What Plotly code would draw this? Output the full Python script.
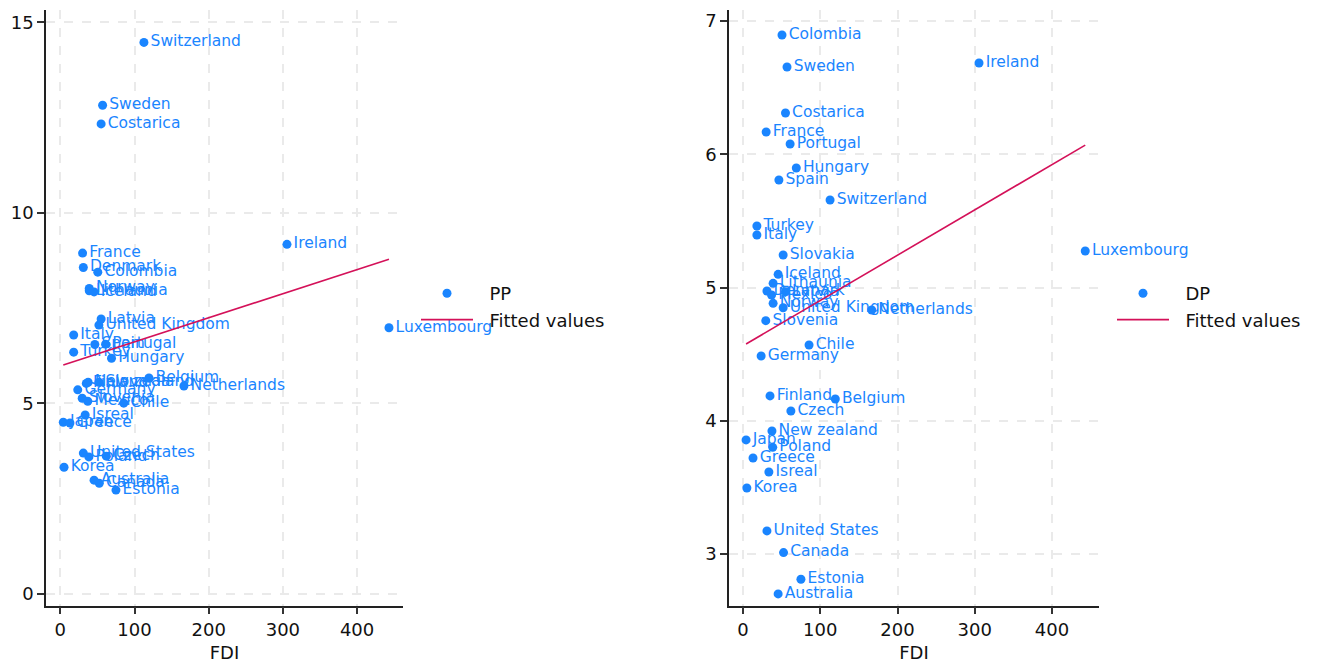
import plotly.graph_objects as go

countries = ["Colombia", "Ireland", "Sweden", "Costarica", "France", "Portugal", "Hungary",
             "Spain", "Switzerland", "Turkey", "Italy", "Slovakia", "Luxembourg", "Iceland",
             "Lithaunia", "Denmark", "Latvia", "Mexico", "Norway", "United Kingdom",
             "Netherlands", "Slovenia", "Chile", "Germany", "Finland", "Belgium", "Czech",
             "New zealand", "Japan", "Poland", "Greece", "Isreal", "Korea", "United States",
             "Canada", "Estonia", "Australia"]
fdi = [50.5, 305.5, 57, 55, 30, 61, 69, 46.5, 112.7, 18, 18, 52, 443, 45.5,
       39, 31, 55, 37, 39, 52, 166.6, 29.5, 85.5, 23.5, 35, 119.5, 62,
       37.5, 4, 38.5, 13, 33.5, 5, 31, 52.5, 75, 45.5]
pp = [8.44, 9.17, 12.82, 12.33, 8.94, 6.55, 6.18, 6.54, 14.47, 6.34, 6.79, 5.55, 6.98, 7.92,
      7.95, 8.56, 7.21, 5.05, 8.01, 7.05, 5.45, 5.13, 5.0, 5.35, 5.52, 5.66, 3.61,
      5.55, 4.5, 3.59, 4.48, 4.69, 3.32, 3.69, 2.90, 2.72, 2.98]
dp = [6.895, 6.685, 6.655, 6.31, 6.167, 6.077, 5.897, 5.807, 5.657, 5.462, 5.394, 5.244, 5.274, 5.099,
      5.031, 4.974, 4.968, 4.944, 4.881, 4.848, 4.831, 4.751, 4.568, 4.486, 4.186, 4.163, 4.073,
      3.923, 3.856, 3.80, 3.72, 3.615, 3.495, 3.173, 3.01, 2.81, 2.70]

fit_fdi = [4, 443]
pp_fit = [6.0, 8.78]
dp_fit = [4.576, 6.069]

x_ticks = [0, 100, 200, 300, 400]
pp_ticks = [0, 5, 10, 15]
dp_ticks = [3, 4, 5, 6, 7]

BLUE = "#1a85ff"
RED = "#d41159"
FONT = "DejaVu Sans"
W, H = 1325, 664
PAD = "\u00a0\u00a0"

fig = go.Figure()

fig.add_trace(go.Scatter(
    x=fdi, y=pp, mode="markers+text", text=countries, textposition="middle right",
    textfont=dict(family=FONT, size=15.5, color=BLUE),
    marker=dict(color=BLUE, size=9), name=PAD + "PP", xaxis="x", yaxis="y",
    cliponaxis=False, legend="legend"))
fig.add_trace(go.Scatter(
    x=fit_fdi, y=pp_fit, mode="lines", line=dict(color=RED, width=1.6),
    name=PAD + "Fitted values", xaxis="x", yaxis="y", legend="legend"))

fig.add_trace(go.Scatter(
    x=fdi, y=dp, mode="markers+text", text=countries, textposition="middle right",
    textfont=dict(family=FONT, size=15.5, color=BLUE),
    marker=dict(color=BLUE, size=9), name=PAD + "DP", xaxis="x2", yaxis="y2",
    cliponaxis=False, legend="legend2"))
fig.add_trace(go.Scatter(
    x=fit_fdi, y=dp_fit, mode="lines", line=dict(color=RED, width=1.6),
    name=PAD + "Fitted values", xaxis="x2", yaxis="y2", legend="legend2"))

ybot, ytop = 1 - 605.5 / H, 1 - 10 / H

axis_common = dict(
    showline=True, linecolor="#222222", linewidth=1.5,
    ticks="outside", ticklen=7, tickwidth=1.5, tickcolor="#333333",
    showgrid=True, gridcolor="#eaeaea", gridwidth=1.5, griddash="dash",
    zeroline=False, tickfont=dict(family=FONT, size=18, color="#111111"),
)

legend_common = dict(
    xanchor="left", yanchor="top",
    font=dict(family=FONT, size=18, color="#111111"),
    bgcolor="rgba(0,0,0,0)", itemwidth=52, tracegroupgap=6, traceorder="normal",
)

fig.update_layout(
    width=W, height=H, margin=dict(l=0, r=0, t=0, b=0),
    paper_bgcolor="white", plot_bgcolor="white",
    font=dict(family=FONT, color="#111111"),
    xaxis=dict(domain=[46 / W, 403 / W], range=[-19.3, 461.9], tickvals=x_ticks,
               title=dict(text="FDI", font=dict(family=FONT, size=18), standoff=8),
               anchor="y", **axis_common),
    yaxis=dict(domain=[ybot, ytop], range=[-0.31, 15.32], tickvals=pp_ticks,
               anchor="x", **axis_common),
    xaxis2=dict(domain=[729 / W, 1099 / W], range=[-18.1, 460.8], tickvals=x_ticks,
                title=dict(text="FDI", font=dict(family=FONT, size=18), standoff=8),
                anchor="y2", **axis_common),
    yaxis2=dict(domain=[ybot, ytop], range=[2.613, 7.083], tickvals=dp_ticks,
                anchor="x2", **axis_common),
    legend=dict(x=416 / W, y=1 - 275 / H, **legend_common),
    legend2=dict(x=1112 / W, y=1 - 275 / H, **legend_common),
    showlegend=True,
)

fig.write_html("out.html")
